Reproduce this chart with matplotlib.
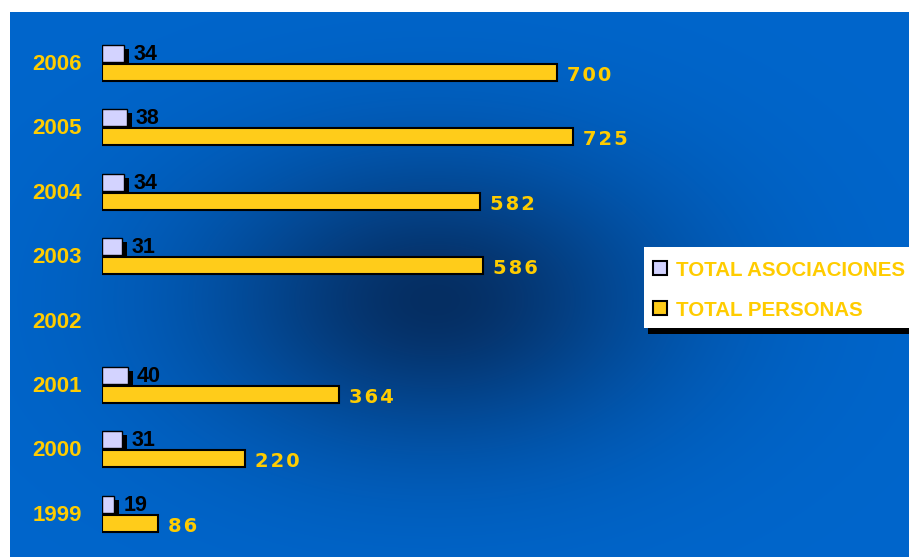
import numpy as np
import matplotlib
matplotlib.use("Agg")
import matplotlib.pyplot as plt
from matplotlib.patches import Rectangle

years = ["2006", "2005", "2004", "2003", "2002", "2001", "2000", "1999"]
asociaciones = [34, 38, 34, 31, np.nan, 40, 31, 19]
personas = [700, 725, 582, 586, np.nan, 364, 220, 86]
legend_labels = ["TOTAL ASOCIACIONES", "TOTAL PERSONAS"]

W, H = 909, 557
fig = plt.figure(figsize=(W / 100, H / 100), dpi=100)
fig.patch.set_facecolor("white")

# background axes in pixel coordinates
bg = fig.add_axes([0, 0, 1, 1], zorder=0)
bg.set_xlim(0, W)
bg.set_ylim(H, 0)
bg.axis("off")
xx, yy = np.meshgrid(np.arange(10, W) + 0.5, np.arange(12, H) + 0.5)
r2 = ((xx - 435) / 230) ** 2 + ((yy - 300) / 145) ** 2
d = np.exp(-r2 ** 0.9)
base = np.array([0, 102, 204]) / 255
dark = np.array([6, 46, 98]) / 255
img = base[None, None, :] * (1 - d[..., None]) + dark[None, None, :] * d[..., None]
bg.imshow(img, extent=[10, W, H, 12], aspect="auto", interpolation="bilinear")

# data axes
px_per_unit = 0.65
row_px = 64.4
row0 = 62
ax = fig.add_axes([102 / W, 0, (W - 102) / W, 1], zorder=1)
ax.patch.set_alpha(0)
ax.set_xlim(0, (W - 102) / px_per_unit)
ax.set_ylim((H - row0) / row_px, -row0 / row_px)
ax.axis("off")

pos = np.arange(len(years))
asoc = np.array(asociaciones, dtype=float)
pers = np.array(personas, dtype=float)
h = 17 / row_px
lav_c = pos - 8.5 / row_px
yel_c = pos + 10.5 / row_px
sx = 5 / px_per_unit
sy = 4 / row_px

lavender = "#D3D3FF"
yellow = "#FFCC1A"
txt_yellow = "#FFCC00"

ax.barh(lav_c + sy, asoc, left=sx, height=h, color="black", linewidth=0, zorder=2)
ax.barh(lav_c, asoc, height=h, color=lavender, edgecolor="black", linewidth=1.0, zorder=3)
ax.barh(yel_c, pers, height=h, color=yellow, edgecolor="black", linewidth=1.5, zorder=3)

for i, y in enumerate(years):
    ax.text(-20 / px_per_unit, pos[i] + 8 / row_px, y, ha="right", va="baseline",
            color=txt_yellow, fontsize=16, fontweight="bold",
            family=["Liberation Sans", "DejaVu Sans"], clip_on=False)
    if not np.isnan(asoc[i]):
        ax.text(asoc[i] + 9 / px_per_unit, pos[i] - 2 / row_px, f"{int(asoc[i])}",
                ha="left", va="baseline", color="black", fontsize=15.5,
                fontweight="bold", family=["Liberation Sans", "DejaVu Sans"])
    if not np.isnan(pers[i]):
        s = "\u200a".join(str(int(pers[i])))
        ax.text(pers[i] + 10 / px_per_unit, pos[i] + 19 / row_px, s,
                ha="left", va="baseline", color=txt_yellow, fontsize=14,
                fontweight="bold", family=["DejaVu Sans"])

# legend (pixel coordinates)
lg = fig.add_axes([0, 0, 1, 1], zorder=2)
lg.set_xlim(0, W)
lg.set_ylim(H, 0)
lg.axis("off")
lg.patch.set_alpha(0)
lg.add_patch(Rectangle((648, 253), 270, 81, facecolor="black", edgecolor="none"))
lg.add_patch(Rectangle((644, 247), 270, 81, facecolor="white", edgecolor="none"))
for k, (lab, col) in enumerate(zip(legend_labels, [lavender, yellow])):
    cy = 268 + 40 * k
    lg.add_patch(Rectangle((652.5, cy - 7), 14, 14, facecolor=col, edgecolor="black", linewidth=1.5))
    lg.text(676, cy + 8.5, lab, ha="left", va="baseline", color=txt_yellow,
            fontsize=14.8, fontweight="bold", family=["Liberation Sans", "DejaVu Sans"])

fig.savefig("out.png", dpi=100)
